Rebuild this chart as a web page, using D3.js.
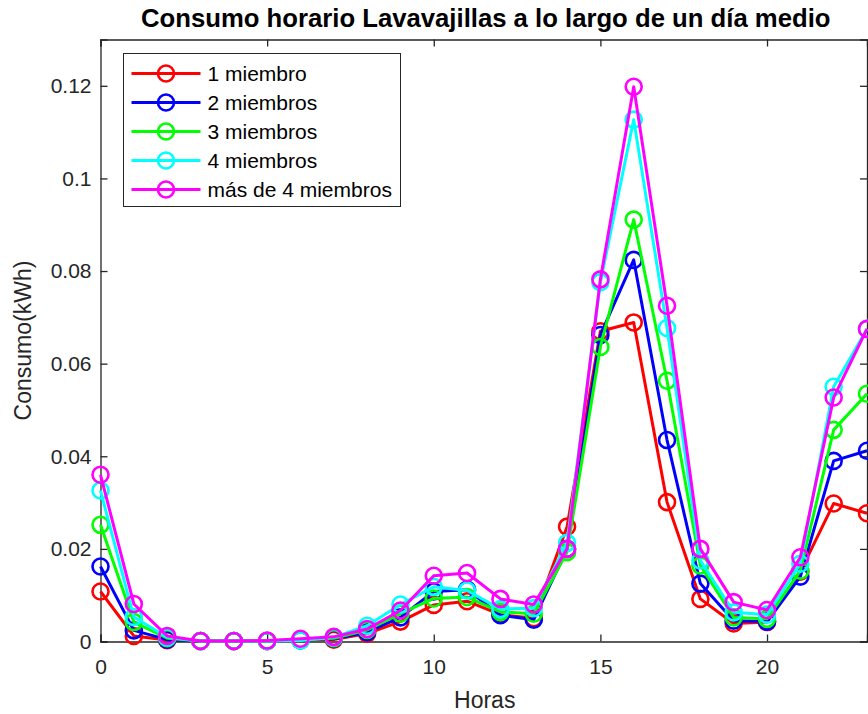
<!DOCTYPE html>
<html>
<head>
<meta charset="utf-8">
<script src="https://cdn.jsdelivr.net/npm/d3@7"></script>
<style>
  html, body { margin: 0; padding: 0; background: #ffffff; }
  svg { display: block; font-family: "Liberation Sans", Arial, sans-serif; }
</style>
</head>
<body>
<svg id="chart" width="868" height="714"></svg>
<script>
// Hours of the day (0..23)
const hours = d3.range(0, 24);

// Legend labels / series names
const seriesNames = ["1 miembro", "2 miembros", "3 miembros", "4 miembros", "más de 4 miembros"];
const seriesColors = ["#ff0000", "#0000ff", "#00ff00", "#00ffff", "#ff00ff"];

// Hourly consumption (kWh) per household size
const miembros1 = [0.0108, 0.0012, 0.0003, 0.0001, 0.0001, 0.0001, 0.0003, 0.0004, 0.0017, 0.0043, 0.0079, 0.0087, 0.0058, 0.0050, 0.0248, 0.0670, 0.0689, 0.0301, 0.0092, 0.0039, 0.0042, 0.0151, 0.0298, 0.0277];
const miembros2 = [0.0162, 0.0024, 0.0004, 0.0001, 0.0001, 0.0001, 0.0003, 0.0006, 0.0020, 0.0052, 0.0108, 0.0112, 0.0057, 0.0047, 0.0200, 0.0662, 0.0824, 0.0435, 0.0125, 0.0045, 0.0043, 0.0140, 0.0390, 0.0412];
const miembros3 = [0.0252, 0.0042, 0.0007, 0.0001, 0.0001, 0.0001, 0.0003, 0.0007, 0.0025, 0.0060, 0.0093, 0.0096, 0.0064, 0.0060, 0.0193, 0.0636, 0.0911, 0.0563, 0.0164, 0.0052, 0.0049, 0.0153, 0.0457, 0.0535];
const miembros4 = [0.0326, 0.0053, 0.0009, 0.0001, 0.0001, 0.0001, 0.0002, 0.0009, 0.0034, 0.0080, 0.0118, 0.0110, 0.0070, 0.0072, 0.0213, 0.0776, 0.1127, 0.0677, 0.0175, 0.0063, 0.0058, 0.0168, 0.0550, 0.0675];
const miembros5 = [0.0360, 0.0081, 0.0012, 0.0001, 0.0001, 0.0002, 0.0006, 0.0010, 0.0027, 0.0067, 0.0142, 0.0148, 0.0092, 0.0080, 0.0200, 0.0782, 0.1198, 0.0725, 0.0200, 0.0085, 0.0068, 0.0182, 0.0527, 0.0675];

const seriesValues = [miembros1, miembros2, miembros3, miembros4, miembros5];

// Axis ticks
const xTicks = [0, 5, 10, 15, 20];
const yTicks = [0, 0.02, 0.04, 0.06, 0.08, 0.1, 0.12];
const yTickLabels = ["0", "0.02", "0.04", "0.06", "0.08", "0.1", "0.12"];

const titleText = "Consumo horario Lavavajillas a lo largo de un día medio";
const xLabel = "Horas";
const yLabel = "Consumo(kWh)";

// Plot box
const plot = { left: 100.5, right: 867, top: 39.5, bottom: 641.5 };
const axisColor = "#262626";
const font = "'Liberation Sans', Arial, sans-serif";

const svg = d3.select("#chart");

const x = d3.scaleLinear().domain([0, 23]).range([plot.left, plot.right]);
const y = d3.scaleLinear().domain([0, 0.13]).range([plot.bottom, plot.top]);

const tickLen = 7;

// Bottom axis (ticks pointing inward)
const xAxis = d3.axisBottom(x).tickValues(xTicks).tickSize(-tickLen).tickPadding(17.5).tickFormat(d3.format("d"));
const gx = svg.append("g").attr("transform", `translate(0,${plot.bottom})`).call(xAxis);
// Top axis (ticks only)
const gxt = svg.append("g").attr("transform", `translate(0,${plot.top})`)
  .call(d3.axisTop(x).tickValues(xTicks).tickSize(-tickLen).tickFormat(""));
// Left axis
const yAxis = d3.axisLeft(y).tickValues(yTicks).tickSize(-tickLen).tickPadding(9)
  .tickFormat((d, i) => yTickLabels[i]);
const gy = svg.append("g").attr("transform", `translate(${plot.left},0)`).call(yAxis);
// Right axis (ticks only)
const gyr = svg.append("g").attr("transform", `translate(${plot.right},0)`)
  .call(d3.axisRight(y).tickValues(yTicks).tickSize(-tickLen).tickFormat(""));

[gx, gxt, gy, gyr].forEach(g => {
  g.select(".domain").attr("stroke", axisColor).attr("stroke-width", 1.3);
  g.selectAll(".tick line").attr("stroke", axisColor).attr("stroke-width", 1.3);
  g.selectAll(".tick text").attr("fill", axisColor)
    .style("font-family", font).style("font-size", "21px");
});

// Series lines and circle markers
const line = d3.line().x((d, i) => x(hours[i])).y(d => y(d));
const clipId = "plotClip";
svg.append("clipPath").attr("id", clipId).append("rect")
  .attr("x", plot.left - 12).attr("y", plot.top - 12)
  .attr("width", plot.right - plot.left + 24).attr("height", plot.bottom - plot.top + 24);

const seriesG = svg.append("g").attr("clip-path", `url(#${clipId})`);
seriesValues.forEach((vals, s) => {
  const g = seriesG.append("g");
  g.append("path").datum(vals)
    .attr("d", line)
    .attr("fill", "none")
    .attr("stroke", seriesColors[s])
    .attr("stroke-width", 3)
    .attr("stroke-linejoin", "round");
  g.selectAll("circle").data(vals).join("circle")
    .attr("cx", (d, i) => x(hours[i]))
    .attr("cy", d => y(d))
    .attr("r", 8)
    .attr("fill", "none")
    .attr("stroke", seriesColors[s])
    .attr("stroke-width", 2.6);
});

// Title
svg.append("text")
  .attr("x", (plot.left + plot.right) / 2 + 2)
  .attr("y", 27)
  .attr("text-anchor", "middle")
  .attr("fill", "#000")
  .style("font-family", font)
  .style("font-weight", "bold")
  .style("font-size", "25.7px")
  .text(titleText);

// Axis labels
svg.append("text")
  .attr("x", (plot.left + plot.right) / 2 + 1)
  .attr("y", 708)
  .attr("text-anchor", "middle")
  .attr("fill", axisColor)
  .style("font-family", font)
  .style("font-size", "23px")
  .text(xLabel);

svg.append("text")
  .attr("transform", `translate(31,${(plot.top + plot.bottom) / 2}) rotate(-90)`)
  .attr("text-anchor", "middle")
  .attr("fill", axisColor)
  .style("font-family", font)
  .style("font-size", "23px")
  .text(yLabel);

// Legend
const legend = { x: 123.5, y: 53.5, w: 277, h: 153, rowH: 29 };
const lg = svg.append("g");
lg.append("rect")
  .attr("x", legend.x).attr("y", legend.y)
  .attr("width", legend.w).attr("height", legend.h)
  .attr("fill", "#fff").attr("stroke", axisColor).attr("stroke-width", 1);
seriesNames.forEach((name, s) => {
  const cy = legend.y + 20 + s * legend.rowH;
  lg.append("line")
    .attr("x1", legend.x + 8).attr("x2", legend.x + 77)
    .attr("y1", cy).attr("y2", cy)
    .attr("stroke", seriesColors[s]).attr("stroke-width", 3);
  lg.append("circle")
    .attr("cx", legend.x + 42.5).attr("cy", cy).attr("r", 8)
    .attr("fill", "none").attr("stroke", seriesColors[s]).attr("stroke-width", 2.6);
  lg.append("text")
    .attr("x", legend.x + 84).attr("y", cy + 7)
    .attr("fill", "#000")
    .style("font-family", font)
    .style("font-size", "21px")
    .text(name);
});
</script>
</body>
</html>
